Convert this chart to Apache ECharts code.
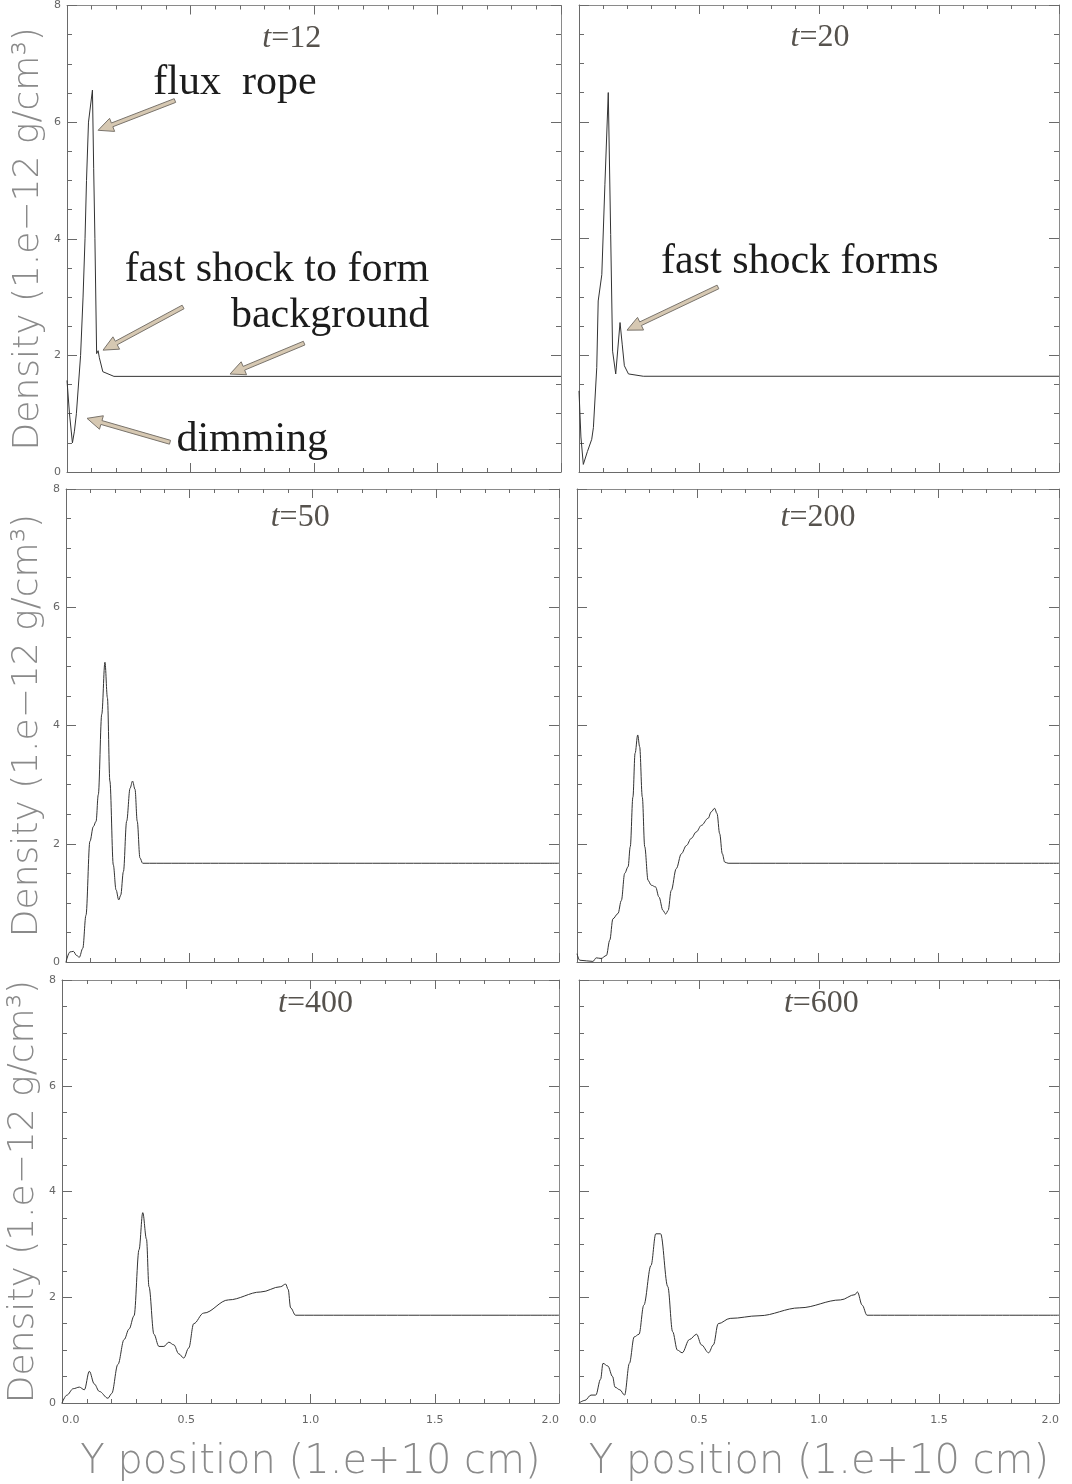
<!DOCTYPE html>
<html>
<head>
<meta charset="utf-8">
<script src="https://cdn.jsdelivr.net/npm/echarts@6/dist/echarts.min.js"></script>
<style>html,body{margin:0;padding:0;background:#fff;}#main{width:1072px;height:1484px;}</style>
</head>
<body>
<div id="main"></div>
<script>
// ---- data: [Y position (1e10 cm), density (1e-12 g/cm^3)] ----
const t12 = [[0,1.57],[0.01,1.0],[0.022,0.5],[0.03,0.7],[0.038,1.0],[0.055,2.0],[0.065,3.0],[0.073,4.0],[0.079,5.0],[0.087,6.0],[0.103,6.55],[0.108,5.2],[0.113,4.0],[0.12,2.03],[0.126,2.08],[0.131,1.96],[0.145,1.72],[0.19,1.64],[2.0,1.64]];
const t20 = [[0,1.39],[0.008,0.6],[0.018,0.13],[0.035,0.35],[0.053,0.56],[0.06,0.76],[0.074,1.79],[0.08,2.93],[0.095,3.38],[0.108,4.93],[0.122,6.5],[0.132,4.07],[0.14,2.07],[0.153,1.68],[0.171,2.56],[0.18,2.19],[0.189,1.82],[0.206,1.68],[0.268,1.64],[2.0,1.64]];
const t50 = [[0,0],[0.016,0.17],[0.03,0.18],[0.043,0.11],[0.054,0.08],[0.068,0.23],[0.081,0.79],[0.097,2.04],[0.111,2.29],[0.122,2.38],[0.131,2.83],[0.145,4.19],[0.158,5.07],[0.168,4.47],[0.178,3.06],[0.192,1.64],[0.203,1.22],[0.214,1.05],[0.222,1.13],[0.233,1.53],[0.246,2.38],[0.26,2.94],[0.27,3.06],[0.28,2.92],[0.289,2.38],[0.3,1.76],[0.311,1.67],[2.0,1.67]];
const t200 = [[0,0.14],[0.011,0.03],[0.066,0.01],[0.08,0.07],[0.1,0.06],[0.122,0.11],[0.136,0.37],[0.149,0.73],[0.17,0.82],[0.184,1.04],[0.198,1.5],[0.212,1.61],[0.221,1.95],[0.232,2.79],[0.241,3.53],[0.252,3.84],[0.26,3.64],[0.271,2.79],[0.281,1.95],[0.295,1.38],[0.308,1.3],[0.326,1.27],[0.34,1.1],[0.357,0.87],[0.368,0.81],[0.378,0.87],[0.391,1.21],[0.412,1.58],[0.433,1.83],[0.454,1.97],[0.474,2.09],[0.495,2.2],[0.516,2.31],[0.544,2.43],[0.557,2.54],[0.571,2.6],[0.581,2.51],[0.592,2.17],[0.603,1.83],[0.613,1.69],[0.627,1.67],[2.0,1.67]];
const t400 = [[0,0],[0.02,0.15],[0.045,0.27],[0.07,0.3],[0.09,0.25],[0.11,0.6],[0.13,0.36],[0.15,0.22],[0.185,0.09],[0.2,0.18],[0.225,0.73],[0.25,1.2],[0.27,1.4],[0.29,1.65],[0.31,2.9],[0.325,3.6],[0.34,3.1],[0.35,2.2],[0.37,1.3],[0.39,1.07],[0.41,1.07],[0.43,1.15],[0.45,1.1],[0.47,0.93],[0.49,0.85],[0.51,1.04],[0.53,1.5],[0.57,1.7],[0.67,1.95],[0.8,2.1],[0.88,2.2],[0.9,2.25],[0.91,2.15],[0.92,1.8],[0.94,1.66],[2.0,1.66]];
const t600 = [[0,0],[0.025,0.05],[0.05,0.15],[0.07,0.15],[0.09,0.45],[0.1,0.75],[0.12,0.7],[0.14,0.5],[0.15,0.3],[0.17,0.25],[0.19,0.15],[0.21,0.75],[0.23,1.25],[0.25,1.3],[0.27,1.85],[0.3,2.6],[0.32,3.2],[0.34,3.2],[0.37,2.2],[0.39,1.35],[0.41,1.0],[0.43,0.95],[0.46,1.2],[0.49,1.3],[0.51,1.1],[0.54,0.95],[0.56,1.1],[0.58,1.5],[0.63,1.6],[0.75,1.65],[0.92,1.8],[1.09,1.95],[1.15,2.05],[1.16,2.1],[1.18,1.85],[1.2,1.66],[2.0,1.66]];

const panelData = [t12, t20, t50, t200, t400, t600];
const panelTimes = ['12', '20', '50', '200', '400', '600'];
const panelSmooth = [false, false, 0.35, 0.35, 0.35, 0.35];
const xTickValues = ['0.0', '0.5', '1.0', '1.5', '2.0'];
const yTickValues = [0, 2, 4, 6, 8];
const yTitle = 'Density (1.e\u221212 g/cm\u00b3)';
const xTitle = 'Y position (1.e+10 cm)';

// annotation texts (anchored in data coordinates of panel)
const notes = [
  {panel: 0, text: 'flux  rope', at: [0.68, 6.68]},
  {panel: 0, text: 'fast shock to form', at: [0.85, 3.46]},
  {panel: 0, text: 'background', at: [1.065, 2.67]},
  {panel: 0, text: 'dimming', at: [0.75, 0.55]},
  {panel: 1, text: 'fast shock forms', at: [0.92, 3.6]}
];
const arrows = [
  {panel: 0, from: [0.437, 6.37], to: [0.126, 5.86]},
  {panel: 0, from: [0.47, 2.83], to: [0.146, 2.09]},
  {panel: 0, from: [0.96, 2.21], to: [0.66, 1.68]},
  {panel: 0, from: [0.417, 0.51], to: [0.081, 0.92]},
  {panel: 1, from: [0.579, 3.17], to: [0.2, 2.43]}
];
const titlePos = [[0.91, 7.43], [1.004, 7.45], [0.95, 7.51], [1.0, 7.51], [1.02, 7.55], [1.01, 7.55]];

// ---- layout ----
const gridBoxes = [
  {left: 67, top: 5, width: 494, height: 467},
  {left: 579, top: 5, width: 480, height: 467},
  {left: 66, top: 489, width: 493, height: 473},
  {left: 577, top: 489, width: 482, height: 473},
  {left: 62, top: 980, width: 497, height: 440},
  {left: 579, top: 980, width: 480, height: 440}
];
const AX = '#6a6a6a';
const LBL = '#666';

const xAxes = [], yAxes = [], series = [];
gridBoxes.forEach((g, i) => {
  const bottomRow = i >= 4;
  xAxes[i] = {
    type: 'value', gridIndex: i, min: 0, max: 2, interval: 0.5, position: 'bottom',
    axisLine: {show: true, onZero: false, lineStyle: {color: AX, width: 1}},
    axisTick: {show: true, inside: true, length: 9, lineStyle: {color: AX}},
    minorTick: {show: true, splitNumber: 5, length: 4, lineStyle: {color: AX}},
    splitLine: {show: false},
    axisLabel: {show: bottomRow, margin: 12, color: LBL, fontSize: 11, fontFamily: 'DejaVu Sans',
      alignMinLabel: 'left', alignMaxLabel: 'right',
      formatter: v => xTickValues[Math.round(v / 0.5)]},
    name: bottomRow ? xTitle : '', nameLocation: 'middle', nameGap: 40,
    nameTextStyle: {fontFamily: 'DejaVu Sans', fontWeight: 200, fontSize: 40, color: '#8a8a8a'}
  };
  xAxes[i + 6] = {
    type: 'value', gridIndex: i, min: 0, max: 2, interval: 0.5, position: 'top',
    axisLine: {show: true, onZero: false, lineStyle: {color: '#8a8a8a', width: 1}},
    axisTick: {show: true, inside: true, length: 9, lineStyle: {color: AX}},
    minorTick: {show: true, splitNumber: 5, length: 4, lineStyle: {color: AX}},
    splitLine: {show: false}, axisLabel: {show: false}
  };
  yAxes[i] = {
    type: 'value', gridIndex: i, min: 0, max: 8, interval: 2, position: 'left',
    axisLine: {show: true, onZero: false, lineStyle: {color: AX, width: 1}},
    axisTick: {show: true, inside: true, length: 10, lineStyle: {color: AX}},
    minorTick: {show: true, splitNumber: 4, length: 5, lineStyle: {color: AX}},
    splitLine: {show: false},
    axisLabel: {show: i % 2 === 0, margin: 6, color: LBL, fontSize: 11, fontFamily: 'DejaVu Sans',
      formatter: v => String(yTickValues[Math.round(v / 2)])},
    name: i % 2 === 0 ? yTitle : '', nameLocation: 'middle', nameRotate: 90, nameGap: 20,
    nameTextStyle: {fontFamily: 'DejaVu Sans', fontWeight: 200, fontSize: 36, color: '#8a8a8a'}
  };
  yAxes[i + 6] = {
    type: 'value', gridIndex: i, min: 0, max: 8, interval: 2, position: 'right',
    axisLine: {show: true, onZero: false, lineStyle: {color: '#8a8a8a', width: 1}},
    axisTick: {show: true, inside: true, length: 10, lineStyle: {color: AX}},
    minorTick: {show: true, splitNumber: 4, length: 5, lineStyle: {color: AX}},
    splitLine: {show: false}, axisLabel: {show: false}
  };
  series.push({
    type: 'line', xAxisIndex: i, yAxisIndex: i, data: panelData[i],
    showSymbol: false, symbol: 'none', smooth: panelSmooth[i], smoothMonotone: 'x', animation: false,
    lineStyle: {color: '#333', width: 1}
  });
});

const option = {
  backgroundColor: '#fff',
  animation: false,
  grid: gridBoxes.map(g => Object.assign({containLabel: false}, g)),
  xAxis: xAxes,
  yAxis: yAxes,
  series: series
};

const chart = echarts.init(document.getElementById('main'), null, {renderer: 'canvas'});
chart.setOption(option);

function toPx(panel, p) { return chart.convertToPixel({seriesIndex: panel}, p); }

const graphics = [];
// titles t=...
titlePos.forEach((p, i) => {
  const q = toPx(i, p);
  graphics.push({
    type: 'text', x: q[0], y: q[1], silent: true,
    style: {
      text: '{i|t}{n|=' + panelTimes[i] + '}',
      align: 'center', verticalAlign: 'middle',
      rich: {
        i: {fontFamily: 'Liberation Serif', fontStyle: 'italic', fontSize: 32, fill: '#56524d'},
        n: {fontFamily: 'Liberation Serif', fontSize: 32, fill: '#56524d'}
      }
    }
  });
});
// annotation texts
notes.forEach(n => {
  const q = toPx(n.panel, n.at);
  graphics.push({
    type: 'text', x: q[0], y: q[1], silent: true,
    style: {text: n.text, align: 'center', verticalAlign: 'middle',
      fontFamily: 'Liberation Serif', fontSize: 42, fill: '#1c1c1c'}
  });
});
// arrows
arrows.forEach(a => {
  const t = toPx(a.panel, a.from), h = toPx(a.panel, a.to);
  const dx = h[0] - t[0], dy = h[1] - t[1];
  const L = Math.hypot(dx, dy), ux = dx / L, uy = dy / L, nx = -uy, ny = ux;
  const hl = 15, hw = 7, sw = 2;
  const neck = [h[0] - ux * hl, h[1] - uy * hl];
  const pts = [
    [t[0] + nx * sw, t[1] + ny * sw],
    [neck[0] + nx * sw, neck[1] + ny * sw],
    [neck[0] + nx * hw, neck[1] + ny * hw],
    [h[0], h[1]],
    [neck[0] - nx * hw, neck[1] - ny * hw],
    [neck[0] - nx * sw, neck[1] - ny * sw],
    [t[0] - nx * sw, t[1] - ny * sw]
  ];
  graphics.push({
    type: 'polygon', silent: true, shape: {points: pts},
    style: {fill: '#d6c8b2', stroke: '#7a746c', lineWidth: 1}
  });
});
chart.setOption({graphic: graphics});
</script>
</body>
</html>
